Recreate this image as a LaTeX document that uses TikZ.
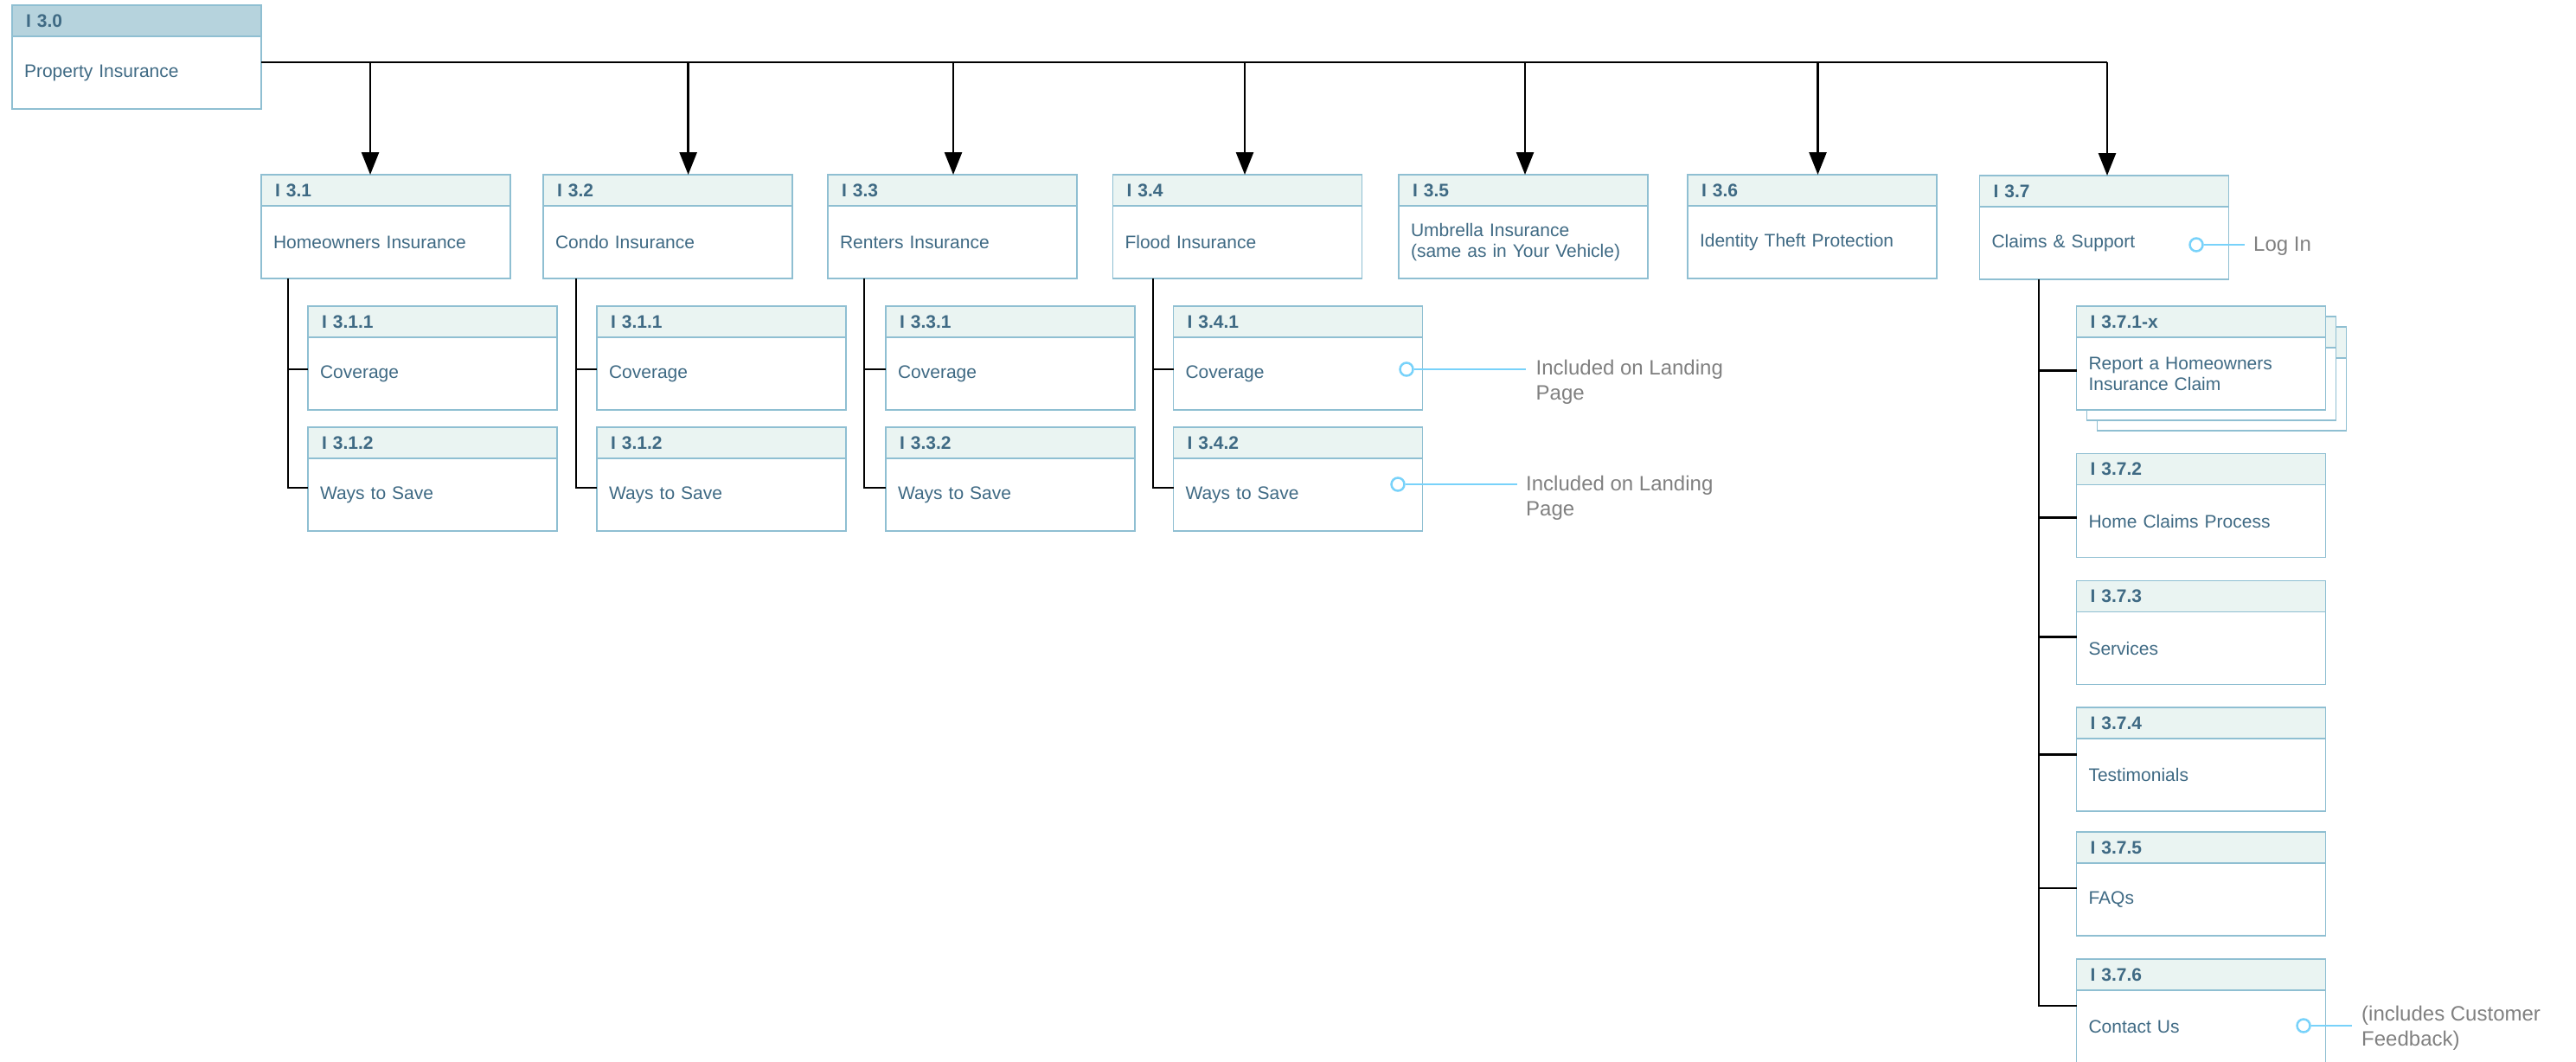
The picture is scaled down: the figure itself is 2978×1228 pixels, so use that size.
\documentclass[tikz,border=0pt]{standalone}
\usepackage{fontspec}
\setmainfont{Liberation Sans}
\usetikzlibrary{arrows.meta,calc}
\definecolor{bordc}{HTML}{8FBFD2}
\definecolor{hdrfill}{HTML}{EAF4F2}
\definecolor{topfill}{HTML}{B6D3DD}
\definecolor{txtc}{HTML}{3F6A84}
\definecolor{annc}{HTML}{78D2FA}
\definecolor{gryc}{HTML}{808080}
\newcommand{\mkbox}[5]{%
  \node[hdr] (#1h) at (#2,#3) {#4};
  \node[bdy] (#1) at (#1h.south west) {#5};}
\tikzset{
  hdr/.style={draw=bordc, line width=1.5pt, fill=hdrfill, anchor=north west, outer sep=0pt,
    minimum width=288pt, text width=256pt, inner xsep=16pt, inner ysep=0pt,
    minimum height=36pt, align=left, font=\fontsize{21}{24}\selectfont\bfseries, text=txtc},
  bdy/.style={draw=bordc, line width=1.5pt, fill=white, anchor=north west, outer sep=0pt,
    minimum width=288pt, text width=260pt, inner xsep=14pt, inner ysep=0pt,
    minimum height=84pt, align=left, font=\fontsize{21}{24}\selectfont, text=txtc},
  tree/.style={draw=black, line width=2.5pt},
  arr/.style={draw=black, line width=2.5pt, -{Triangle[width=20pt,length=26pt]}},
  knob/.style={circle, draw=annc, line width=2.5pt, minimum size=15pt, inner sep=0pt, fill=white},
  annline/.style={draw=annc, line width=2.5pt},
  anntxt/.style={anchor=west, inner ysep=0pt, align=left, text=gryc,
    font=\fontsize{24}{29}\selectfont},
}
\begin{document}
\begin{tikzpicture}[x=1pt,y=-1pt]
\useasboundingbox (0,0) rectangle (2978,1228);
\clip (0,0) rectangle (2978,1228);

% top box
\node[hdr, fill=topfill] (n30h) at (14,6) {I 3.0};
\node[bdy] (n30) at (n30h.south west) {Property Insurance};

% level 1
\mkbox{n31}{302}{202}{I 3.1}{Homeowners Insurance}
\mkbox{n32}{628}{202}{I 3.2}{Condo Insurance}
\mkbox{n33}{957}{202}{I 3.3}{Renters Insurance}
\mkbox{n34}{1286.5}{202}{I 3.4}{Flood Insurance}
\mkbox{n35}{1617}{202}{I 3.5}{Umbrella Insurance\\(same as in Your Vehicle)}
\mkbox{n36}{1951}{202}{I 3.6}{Identity Theft Protection}
\mkbox{n37}{2288.5}{203}{I 3.7}{Claims \& Support}

% level 2
\mkbox{c311}{356}{354}{I 3.1.1}{Coverage}
\mkbox{c312}{356}{494}{I 3.1.2}{Ways to Save}
\mkbox{c321}{690}{354}{I 3.1.1}{Coverage}
\mkbox{c322}{690}{494}{I 3.1.2}{Ways to Save}
\mkbox{c331}{1024}{354}{I 3.3.1}{Coverage}
\mkbox{c332}{1024}{494}{I 3.3.2}{Ways to Save}
\mkbox{c341}{1356.5}{354}{I 3.4.1}{Coverage}
\mkbox{c342}{1356.5}{494}{I 3.4.2}{Ways to Save}

% stacked 3.7.1-x
\mkbox{s2}{2424.5}{378}{}{}
\mkbox{s1}{2412.5}{366}{}{}
\mkbox{c371}{2400.5}{354}{I 3.7.1-x}{Report a Homeowners\\Insurance Claim}
\mkbox{c372}{2400.5}{524.5}{I 3.7.2}{Home Claims Process}
\mkbox{c373}{2400.5}{671.5}{I 3.7.3}{Services}
\mkbox{c374}{2400.5}{818}{I 3.7.4}{Testimonials}
\mkbox{c375}{2400.5}{962}{I 3.7.5}{FAQs}
\mkbox{c376}{2400.5}{1109}{I 3.7.6}{Contact Us}

% bus and arrows
\coordinate (bus) at (0,72);
\coordinate (a31) at ($(n31h.north)+(-18,0)$);
\coordinate (a32) at ($(n32h.north)+(23.6,0)$);
\coordinate (a33) at ($(n33h.north)+(1,0)$);
\coordinate (a34) at ($(n34h.north)+(8.5,0)$);
\coordinate (a35) at ($(n35h.north)+(2,0)$);
\coordinate (a36) at ($(n36h.north)+(6.5,0)$);
\coordinate (a37) at ($(n37h.north)+(3.5,0)$);
\draw[tree] (n30.east |- bus) -- (a37 |- bus);
\foreach \a in {a31,a32,a33,a34,a35,a36,a37}{
  \draw[arr] (\a |- bus) -- (\a);
}

% tree connectors level 2
\coordinate (v31) at ($(n31.south west)+(31,0)$);
\coordinate (v32) at ($(n32.south west)+(38,0)$);
\coordinate (v33) at ($(n33.south west)+(42,0)$);
\coordinate (v34) at ($(n34.south west)+(46.5,0)$);
\foreach \p/\ca/\cb in {v31/c311/c312, v32/c321/c322, v33/c331/c332, v34/c341/c342}{
  \coordinate (ba) at ([yshift=5pt]\ca.west);
  \coordinate (bb) at ([yshift=8pt]\cb.west);
  \draw[tree] (\p) |- (bb);
  \draw[tree] (\p |- ba) -- (ba);
}

% tree connectors under 3.7
\coordinate (v37) at ($(n37.south west)+(68.5,0)$);
\coordinate (b371) at ([yshift=3.3pt]c371.west);
\coordinate (b372) at ([yshift=3.8pt]c372.west);
\coordinate (b373) at ([yshift=13.2pt]c373.west);
\coordinate (b374) at ([yshift=23.5pt]c374.west);
\coordinate (b375) at ([yshift=13pt]c375.west);
\coordinate (b376) at ([yshift=24pt]c376.west);
\draw[tree] (v37) |- (b376);
\foreach \b in {b371,b372,b373,b374,b375}{
  \draw[tree] (v37 |- \b) -- (\b);
}

% annotations
\node[knob] (k1) at (2539,283) {};
\node[anntxt, inner xsep=10pt] (t1) at (2595,285) {Log In};
\draw[annline] (k1.east) -- (k1.east -| t1.west);

\node[knob] (k2) at (1626,427) {};
\node[anntxt, inner xsep=11.5pt] (t2) at (1764,442) {Included on Landing\\Page};
\draw[annline] (k2.east) -- (k2.east -| t2.west);

\node[knob] (k3) at (1616,560) {};
\node[anntxt, inner xsep=10pt] (t3) at (1754,576) {Included on Landing\\Page};
\draw[annline] (k3.east) -- (k3.east -| t3.west);

\node[knob] (k4) at (2663,1186) {};
\node[anntxt, inner xsep=11pt] (t4) at (2719,1189) {(includes Customer\\Feedback)};
\draw[annline] (k4.east) -- (k4.east -| t4.west);
\end{tikzpicture}
\end{document}
